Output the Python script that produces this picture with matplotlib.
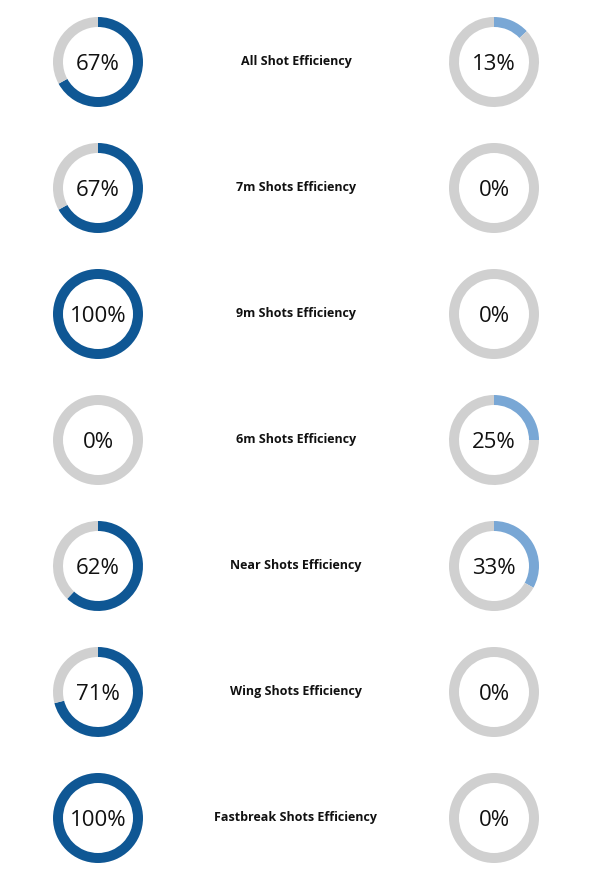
import matplotlib.pyplot as plt

labels = ['All Shot Efficiency', '7m Shots Efficiency', '9m Shots Efficiency',
          '6m Shots Efficiency', 'Near Shots Efficiency', 'Wing Shots Efficiency',
          'Fastbreak Shots Efficiency']
left_pct = [67, 67, 100, 0, 62, 71, 100]
right_pct = [13, 0, 0, 25, 33, 0, 0]

W, H = 590, 874
dark_blue = '#0f5794'
light_blue = '#79a7d5'
grey = '#d0d0d0'

fig = plt.figure(figsize=(W / 100, H / 100), dpi=100)
fig.patch.set_facecolor('white')


def donut(cx, cy, pct, color):
    size = 100
    ax = fig.add_axes([(cx - size / 2) / W, 1 - (cy + size / 2) / H, size / W, size / H])
    ax.axis('off')
    vals = [pct, 100 - pct]
    ax.pie(vals, colors=[color, grey], radius=45, startangle=90, counterclock=False,
           wedgeprops=dict(width=10, linewidth=0), center=(0, 0), frame=False)
    ax.set_aspect('equal')
    ax.set_xlim(-50, 50)
    ax.set_ylim(-50, 50)
    ax.text(0, -2, f'{pct}%', ha='center', va='center', fontsize=16,
            family='Open Sans', color='#111111')


for i, lab in enumerate(labels):
    cy = 62 + 126 * i
    donut(98, cy, left_pct[i], dark_blue)
    donut(494, cy, right_pct[i], light_blue)
    fig.text(296 / W, 1 - (cy - 0.5) / H, lab, ha='center', va='center', fontsize=9,
             fontweight='bold', family='Open Sans', color='#111111')

fig.savefig('out.png', dpi=100, facecolor='white')
